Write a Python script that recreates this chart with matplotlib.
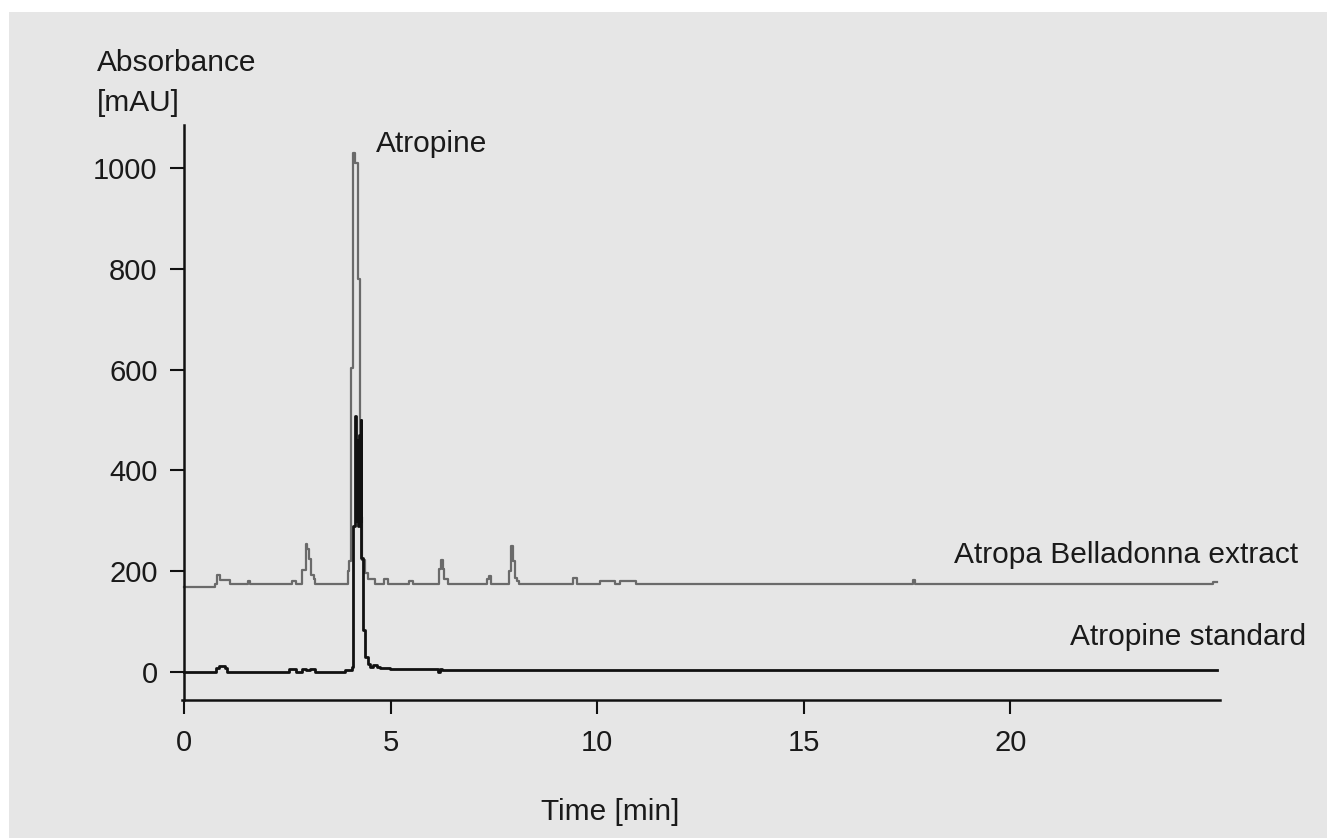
import matplotlib
matplotlib.use("Agg")
import matplotlib.pyplot as plt
from matplotlib.patches import Rectangle
from matplotlib import font_manager

W, H = 1327, 838
DPI = 100

# ---- data ----
extract_time = [0, 0.74, 0.80, 0.86, 1.10, 1.55, 1.60, 2.62, 2.70, 2.86, 2.94, 2.98,
                3.02, 3.06, 3.14, 3.18, 3.96, 4.00, 4.04, 4.10, 4.14, 4.21, 4.26, 4.30,
                4.38, 4.44, 4.62, 4.85, 4.94, 5.45, 5.53, 6.18, 6.22, 6.26, 6.30,
                6.38, 7.34, 7.38, 7.42, 7.86, 7.90, 7.95, 8.00, 8.06, 8.10, 9.42, 9.51,
                10.06, 10.43, 10.55, 10.94, 17.65, 17.70, 24.90, 25.00]
extract_abs = [169, 174, 192, 182, 175, 180, 175, 180, 175, 203, 254, 244,
               225, 193, 184, 175, 200, 220, 603, 1030, 1010, 780, 307, 223,
               197, 184, 175, 185, 175, 180, 175, 205, 222, 205, 184,
               175, 185, 191, 175, 200, 250, 220, 187, 180, 175, 187, 175,
               180, 175, 180, 175, 182, 175, 178, 178]

standard_time = [0, 0.78, 0.84, 0.98, 1.04, 2.54, 2.70, 2.86, 2.95, 3.05, 3.18, 3.90,
                 4.06, 4.10, 4.14, 4.17, 4.19, 4.21, 4.23, 4.25, 4.27, 4.29, 4.33, 4.39,
                 4.45, 4.50, 4.58, 4.66, 4.74, 4.98, 6.14, 6.20, 6.24, 25.00]
standard_abs = [0, 8, 12, 8, 0, 5, 0, 6, 4, 6, 0, 4,
                10, 290, 508, 300, 461, 290, 470, 300, 500, 226, 83, 29,
                15, 10, 14, 10, 8, 6, 0, 6, 4, 4]

x_ticks = [0, 5, 10, 15, 20]
y_ticks = [0, 200, 400, 600, 800, 1000]

# ---- fonts ----
available = {f.name for f in font_manager.fontManager.ttflist}
label_family = ["Liberation Sans", "DejaVu Sans"]
tick_family = (["Liberation Sans Narrow", "Liberation Sans", "DejaVu Sans"]
               if "Liberation Sans Narrow" in available else
               ["Liberation Sans", "DejaVu Sans"])

fig = plt.figure(figsize=(W / DPI, H / DPI), dpi=DPI, facecolor="white")
bg = Rectangle((9 / W, 0), 1 - 9 / W, 1 - 12 / H, transform=fig.transFigure,
               facecolor="#e6e6e6", edgecolor="none", zorder=-10)
fig.add_artist(bg)

ax = fig.add_axes([182 / W, 1 - 700 / H, (1220 - 182) / W, (700 - 125) / H])
ax.set_zorder(5)
ax.set_facecolor("none")

ax.plot(extract_time, extract_abs, drawstyle="steps-post", color="#6a6a6a", lw=1.6)
ax.plot(standard_time, standard_abs, drawstyle="steps-post", color="#111111", lw=2.0)

ax.set_xlim(-0.05, 25.07)
ax.set_ylim(-55.5, 1085)
ax.set_xticks(x_ticks)
ax.set_yticks(y_ticks)

for s in ["top", "right"]:
    ax.spines[s].set_visible(False)
ax.spines["left"].set_position(("data", 0))
for s in ["left", "bottom"]:
    ax.spines[s].set_linewidth(1.8)
    ax.spines[s].set_color("#111111")

ax.tick_params(axis="both", direction="out", length=10, width=1.5, color="#111111",
               labelsize=21, labelcolor="#1a1a1a")
ax.tick_params(axis="y", pad=9)
ax.tick_params(axis="x", pad=11)
for lab in ax.get_xticklabels() + ax.get_yticklabels():
    lab.set_family(tick_family)


def ftext(x, y, s, ha="left"):
    fig.text(x / W, 1 - y / H, s, ha=ha, va="baseline", fontsize=21.5,
             family=label_family, color="#1a1a1a", zorder=6)


ftext(97, 71, "Absorbance")
ftext(97, 111, "[mAU]")
ftext(376, 152, "Atropine")
ftext(1298, 563, "Atropa Belladonna extract", ha="right")
ftext(1306, 645, "Atropine standard", ha="right")
ftext(610, 820, "Time [min]", ha="center")

fig.savefig("out.png", dpi=DPI, facecolor=fig.get_facecolor())
